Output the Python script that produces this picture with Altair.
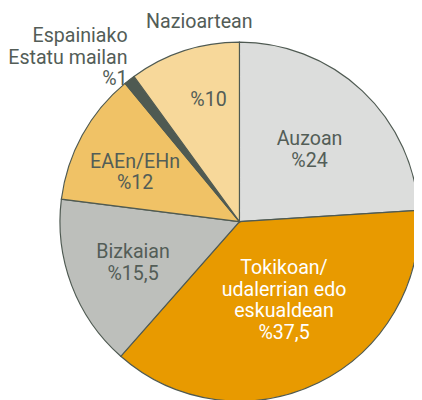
import math
import altair as alt
import pandas as pd

categories = ["Auzoan", "Tokikoan", "Bizkaian", "EAEn/EHn", "Espainiako", "Nazioartean"]
values = [24, 37.5, 15.5, 12, 1, 10]
inner_texts = ["Auzoan\n%24", "Tokikoan/\nudalerrian edo\neskualdean\n%37,5",
               "Bizkaian\n%15,5", "EAEn/EHn\n%12", "", "%10"]
outer_texts = ["", "", "", "", "Espainiako\nEstatu mailan\n%1", "Nazioartean"]
colors = ["#dcdddc", "#e89a00", "#bdbfbb", "#f0c266", "#4f5a52", "#f7d89a"]

df = pd.DataFrame({
    "cat": categories,
    "value": values,
    "order": list(range(len(categories))),
    "inner": inner_texts,
    "outer": outer_texts,
})

CX, CY, R = 236, 214, 183
FONT = "Roboto"
TXT = "#535d57"

base = alt.Chart(df).transform_window(
    cum="sum(value)", sort=[alt.SortField("order")], frame=[None, 0]
).transform_calculate(
    start="datum.cum - datum.value", mid="datum.cum - datum.value / 2"
)

tscale = alt.Scale(domain=[0, 100], range=[0, 2 * math.pi])

arcs = base.mark_arc(outerRadius=R, stroke="#4f5a52", strokeWidth=1.2).encode(
    theta=alt.Theta("start:Q", scale=tscale),
    theta2="cum:Q",
    color=alt.Color("cat:N", scale=alt.Scale(domain=categories, range=colors), legend=None),
    x=alt.value(CX),
    y=alt.value(CY),
)


def label(cat, field, radius, dx=0, dy=0, color=TXT, align="center"):
    return base.transform_filter(alt.datum.cat == cat).mark_text(
        font=FONT, fontSize=20, lineBreak="\n", lineHeight=22,
        align=align, baseline="middle", radius=radius, dx=dx, dy=dy, fill=color,
    ).encode(
        theta=alt.Theta("mid:Q", scale=tscale),
        text=alt.Text(f"{field}:N"),
        x=alt.value(CX),
        y=alt.value(CY),
    )


layers = [
    arcs,
    label("Auzoan", "inner", 100, dx=3, dy=-11),
    label("Tokikoan", "inner", 92, dx=5, dy=-35, color="white"),
    label("Bizkaian", "inner", 116, dy=-10),
    label("EAEn/EHn", "inner", 118, dx=-3, dy=-4),
    label("Nazioartean", "inner", 128, dx=8, dy=-2),
    label("Nazioartean", "outer", 210, dx=24, dy=-4),
    label("Espainiako", "outer", 204, dx=11, dy=-28, align="right"),
]

chart = alt.layer(*layers).properties(
    width=414, height=392,
    autosize=alt.AutoSizeParams(type="none"),
    padding=0,
).configure_view(stroke=None)

chart.save("out.html", embed_options={"renderer": "svg", "actions": False})
